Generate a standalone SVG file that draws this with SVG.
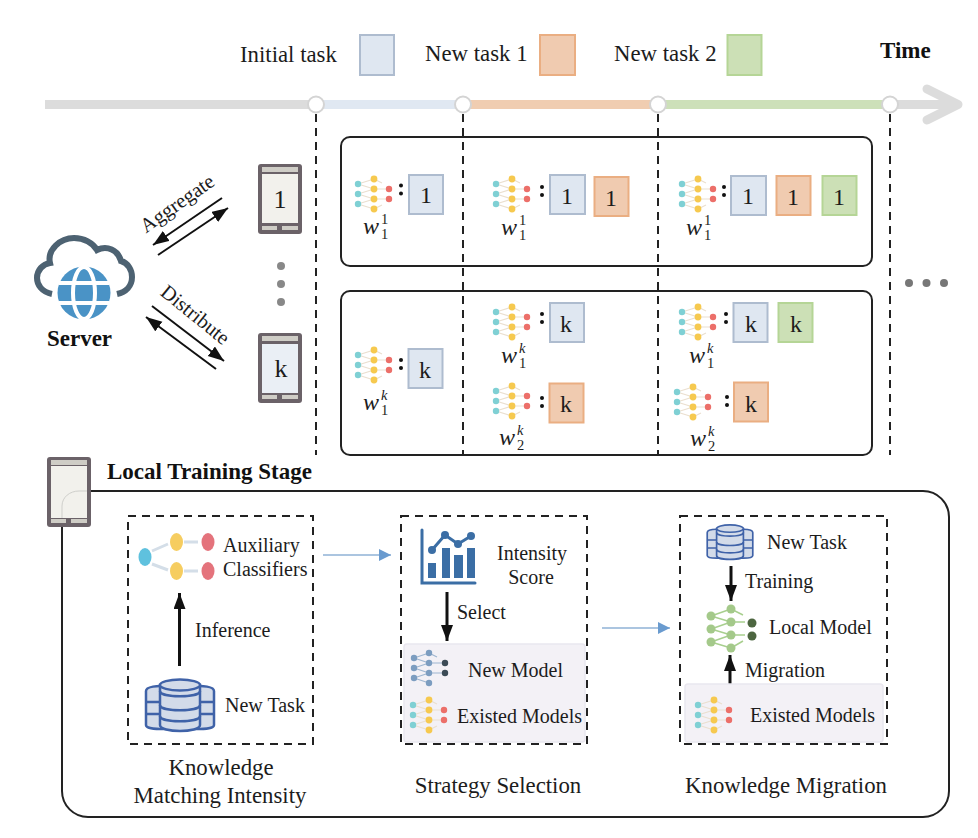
<svg xmlns="http://www.w3.org/2000/svg" width="978" height="838" viewBox="0 0 978 838">
<style>
text{font-family:"Liberation Serif","Times New Roman",serif;fill:#1c1c1c}
.t22{font-size:22.8px}
.t20{font-size:20px}
.rot{font-size:20.5px;text-anchor:middle}
.b{font-weight:bold;font-size:23px;fill:#111}
.m{text-anchor:middle}
.lbl{font-size:24px;text-anchor:middle}
.bl{fill:#dfe7f1;stroke:#aebccf;stroke-width:2}
.or{fill:#f0cbb0;stroke:#eaae82;stroke-width:2}
.gr{fill:#cce0b6;stroke:#b5d596;stroke-width:2}
.panel{fill:none;stroke:#222;stroke-width:2}
.dash{fill:none;stroke:#222;stroke-width:2;stroke-dasharray:8 6}
.soft{fill:#f3f1f6;stroke:#e9e7ef;stroke-width:1.5}
.w{font-size:24px;font-style:italic}
.ss{font-size:14.5px;font-style:italic}
.num{font-size:14.5px}
.ln{stroke:#111;stroke-width:2;fill:none}
.fat{stroke:#111;stroke-width:3;fill:none}
.blue{stroke:#8fb2d6;stroke-width:1.5;fill:none}
.db{fill:#d3dbe9;stroke:#3f62a8}
</style>
<defs>
<marker id="ah" markerUnits="userSpaceOnUse" markerWidth="18" markerHeight="14" refX="16" refY="6" orient="auto"><path d="M0 0L16 6L0 12Z" fill="#111"/></marker>
<marker id="ahb" markerUnits="userSpaceOnUse" markerWidth="14" markerHeight="14" refX="12" refY="6" orient="auto"><path d="M0 0L12 6L0 12Z" fill="#6a9bcf"/></marker>
<g id="links">
<path d="M-16-10L0-15M-16-10L0-5M-16 0L0-5M-16 0L0 5M-16 10L0 5M-16 10L0 15M0-15L8-11M0-5L15-5M0 5L15 5M0 15L8 11" stroke="#eadfcf" stroke-width="1.2" fill="none"/>
</g>
<g id="net">
<use href="#links"/>
<g fill="#7fd0d4"><circle cx="-16" cy="-10" r="3.200"/><circle cx="-16" cy="0" r="3.200"/><circle cx="-16" cy="10" r="3.200"/></g>
<g fill="#f6c94f"><circle cy="-15" r="3.400"/><circle cy="-5" r="3.400"/><circle cy="5" r="3.400"/><circle cy="15" r="3.400"/></g>
<g fill="#ec6f69"><circle cx="15" cy="-5" r="3.200"/><circle cx="15" cy="5" r="3.200"/></g>
</g>
<g id="colon"><circle cy="-4" r="2" fill="#111"/><circle cy="4" r="2" fill="#111"/></g>
<g id="phone">
<rect width="44" height="70" rx="3" fill="#6b6268"/>
<rect x="4" y="3" width="36" height="5" fill="#cfcdc6"/>
<rect x="4" y="62" width="15" height="4" fill="#cfcdc6"/>
<rect x="24" y="62" width="16" height="4" fill="#cfcdc6"/>
</g>
<g id="db">
<path class="db" stroke-width="2.5" d="M-34 -14V20C-34 24-20 24-20 24H20C20 24 34 24 34 20V-14C34-19 20-19 20-19H-20C-20-19-34-19-34-14Z"/>
<path d="M-34-3H34M-34 9H34" stroke="#3f62a8" stroke-width="2.500" fill="none"/>
<path class="db" stroke-width="2.500" d="M-20-20V20C-20 28 20 28 20 20V-20Z"/>
<ellipse class="db" stroke-width="2.500" cy="-20" rx="20" ry="5.500"/>
<path d="M-20-14C-20-7 20-7 20-14M-20 0C-20 7 20 7 20 0M-20 11C-20 18 20 18 20 11" stroke="#3f62a8" stroke-width="2.500" fill="none"/>
</g>
</defs>

<g id="connectors">
<path d="M45 104.500H316" stroke="#dcdcdc" stroke-width="9" fill="none"/>
<path d="M316 104.500H463" stroke="#e0e8f2" stroke-width="9" fill="none"/>
<path d="M463 104.500H658" stroke="#f0cdb1" stroke-width="9" fill="none"/>
<path d="M658 104.500H890" stroke="#cde0b9" stroke-width="9" fill="none"/>
<path d="M890 104.500H955" stroke="#dcdcdc" stroke-width="9" fill="none"/>
<path d="M927 89L958 104.500L927 120" stroke="#dcdcdc" stroke-width="9" fill="none" stroke-linecap="round" stroke-linejoin="round"/>
<path class="dash" d="M316 114V455M463 114V455M658 114V455M890 114V455"/>
<path class="ln" marker-end="url(#ah)" d="M222 198L153 245"/>
<path class="ln" marker-end="url(#ah)" d="M158 255L228 208"/>
<path class="ln" marker-end="url(#ah)" d="M152 306L224 361"/>
<path class="ln" marker-end="url(#ah)" d="M216 369L146 317"/>
<path class="fat" marker-end="url(#ah)" d="M179.500 666V593"/>
<path class="fat" marker-end="url(#ah)" d="M447 592V641"/>
<path class="fat" marker-end="url(#ah)" d="M731 566V601"/>
<path class="fat" marker-end="url(#ah)" d="M730 685V655"/>
<path class="blue" marker-end="url(#ahb)" d="M323 555H391"/>
<path class="blue" marker-end="url(#ahb)" d="M602 628H670"/>
</g>

<g id="legend">
<text class="t22" x="240" y="62">Initial task</text><rect class="bl" x="360" y="35" width="34" height="40"/>
<text class="t22" x="425" y="61">New task 1</text><rect class="or" x="540" y="35" width="35" height="40"/>
<text class="t22" x="614" y="61">New task 2</text><rect class="gr" x="727.500" y="35" width="34" height="40"/>
<text class="b" x="880" y="58">Time</text>
</g>
<g id="ticks" fill="#fff" stroke="#d4d4d4" stroke-width="2">
<circle cx="316" cy="104.500" r="8"/><circle cx="463" cy="104.500" r="8"/><circle cx="658" cy="104.500" r="8"/><circle cx="890" cy="104.500" r="8"/>
</g>

<g id="server">
<path d="M52 294C42 292 37 285 37 278C37 270 43 264 50 263C47 250 60 238 74 238C84 238 93 243 97 250C107 245 118 250 121 261C128 263 132 270 132 277C132 286 126 292 117 294" fill="none" stroke="#4d6272" stroke-width="6"/>
<circle cx="84" cy="293" r="26.500" fill="#4a93c6"/>
<g fill="none" stroke="#fff" stroke-width="4"><ellipse cx="84" cy="293" rx="11" ry="26"/><path d="M59 283H109M59 303H109"/></g>
<text class="b m" x="79.500" y="346">Server</text>
</g>
<text class="rot" transform="translate(181 209) rotate(-35)">Aggregate</text>
<text class="rot" transform="translate(191 320) rotate(39)">Distribute</text>

<g id="client-1"><use href="#phone" x="258" y="164"/><rect x="262" y="174" width="36" height="49" fill="#f2f1ec"/><text class="lbl" style="font-size:26px" x="280" y="208">1</text></g>
<g id="client-dots" fill="#888"><circle cx="281" cy="266" r="4"/><circle cx="281" cy="284" r="4"/><circle cx="281" cy="302" r="4"/></g>
<g id="client-k"><use href="#phone" x="258" y="333"/><rect x="262" y="344" width="36" height="49" fill="#eaeff5"/><text class="lbl" style="font-size:26px" x="281" y="377">k</text></g>

<g id="client-1-panel">
<rect class="panel" x="341" y="137" width="531" height="129" rx="9"/>
<use href="#net" x="374" y="194"/><use href="#colon" x="401" y="189.500"/>
<rect class="bl" x="409" y="175" width="34" height="39"/><text class="lbl" x="426" y="203">1</text>
<text class="w" x="363" y="234">w</text><text class="num" x="381" y="224">1</text><text class="num" x="381" y="239">1</text>
<use href="#net" x="512" y="194"/><use href="#colon" x="542" y="191"/>
<rect class="bl" x="550" y="175" width="35" height="39"/><text class="lbl" x="567" y="204">1</text>
<rect class="or" x="594.500" y="177" width="34" height="39"/><text class="lbl" x="611" y="206">1</text>
<text class="w" x="501" y="235">w</text><text class="num" x="519" y="225">1</text><text class="num" x="519" y="240">1</text>
<use href="#net" x="698" y="194"/><use href="#colon" x="724" y="191"/>
<rect class="bl" x="731" y="176" width="35" height="39"/><text class="lbl" x="748" y="204">1</text>
<rect class="or" x="776.500" y="176" width="34" height="39"/><text class="lbl" x="793" y="205">1</text>
<rect class="gr" x="822.500" y="176" width="34" height="39"/><text class="lbl" x="839" y="205">1</text>
<text class="w" x="686" y="235">w</text><text class="num" x="704" y="225">1</text><text class="num" x="704" y="240">1</text>
</g>

<g id="client-k-panel">
<rect class="panel" x="341" y="291" width="531" height="164" rx="9"/>
<use href="#net" x="374" y="365"/><use href="#colon" x="401" y="364"/>
<rect class="bl" x="408.500" y="349" width="34" height="39"/><text class="lbl" x="425" y="378">k</text>
<text class="w" x="363" y="410">w</text><text class="ss" x="381" y="400">k</text><text class="num" x="381" y="415">1</text>
<use href="#net" x="512" y="322"/><use href="#colon" x="542" y="318"/>
<rect class="bl" x="550" y="303" width="34" height="39"/><text class="lbl" x="566" y="332">k</text>
<text class="w" x="501" y="363">w</text><text class="ss" x="519" y="353">k</text><text class="num" x="519" y="368">1</text>
<use href="#net" x="512" y="401"/><use href="#colon" x="542" y="402"/>
<rect class="or" x="549.500" y="383.500" width="34" height="39"/><text class="lbl" x="566" y="412">k</text>
<text class="w" x="499" y="445">w</text><text class="ss" x="517" y="435">k</text><text class="num" x="517" y="450">2</text>
<use href="#net" x="698" y="322"/><use href="#colon" x="726" y="318"/>
<rect class="bl" x="733.500" y="303" width="34" height="39"/><text class="lbl" x="751" y="332">k</text>
<rect class="gr" x="778.500" y="303" width="34" height="39"/><text class="lbl" x="796" y="332">k</text>
<text class="w" x="689" y="363">w</text><text class="ss" x="707" y="353">k</text><text class="num" x="707" y="368">1</text>
<use href="#net" x="693" y="402"/><use href="#colon" x="727" y="401"/>
<rect class="or" x="734" y="382.500" width="34" height="39"/><text class="lbl" x="751" y="412">k</text>
<text class="w" x="690" y="446">w</text><text class="ss" x="708" y="436">k</text><text class="num" x="708" y="451">2</text>
</g>

<g id="more-dots" fill="#777"><circle cx="909" cy="283" r="4"/><circle cx="926.500" cy="283" r="4"/><circle cx="944" cy="283" r="4"/></g>

<g id="local-stage">
<rect class="panel" x="62" y="491" width="887" height="326" rx="26"/>
<use href="#phone" x="47" y="457"/><rect x="51" y="466" width="36" height="52" fill="#f2f1ec"/>
<path d="M62 518V506C62 497 70 491 79 491H87" fill="none" stroke="#cfcfcb" stroke-width="1"/>
<text class="b" x="107" y="479">Local Training Stage</text>
</g>

<g id="knowledge-matching">
<rect class="dash" x="128" y="516" width="185" height="228"/>
<path d="M152 551L168 544M152 564L168 570M184 542H198M184 571H198" stroke="#d4dee8" stroke-width="3" fill="none"/>
<ellipse cx="145" cy="557" rx="6.500" ry="9" fill="#5fc1de"/>
<ellipse cx="176.500" cy="542" rx="6.500" ry="9" fill="#f6cd60"/><ellipse cx="176.500" cy="571" rx="6.500" ry="9" fill="#f6cd60"/>
<ellipse cx="208" cy="542" rx="6.500" ry="9" fill="#e4737c"/><ellipse cx="208" cy="571" rx="6.500" ry="9" fill="#e4737c"/>
<text class="t20" x="223" y="552">Auxiliary</text><text class="t20" x="223" y="576">Classifiers</text>
<text class="t20" x="195" y="637">Inference</text>
<use href="#db" x="180" y="705"/>
<text class="t20" x="225" y="712">New Task</text>
<text class="t22 m" x="221" y="775">Knowledge</text><text class="t22 m" x="220" y="803">Matching Intensity</text>
</g>

<g id="strategy-selection">
<rect class="dash" x="401" y="516" width="186" height="228"/>
<rect class="soft" x="404" y="644" width="181" height="98" rx="3"/>
<path d="M422 530V583H475" fill="none" stroke="#3b6ea5" stroke-width="3" stroke-linecap="round"/>
<g fill="#3b6ea5"><rect x="428" y="563" width="8" height="15"/><rect x="442" y="548" width="8" height="30"/><rect x="454" y="555" width="9" height="23"/><rect x="467" y="548" width="8" height="30"/>
<path d="M432 550L445 535L458 544L471 536" fill="none" stroke="#3b6ea5" stroke-width="3"/>
<circle cx="432" cy="550" r="4"/><circle cx="445" cy="535" r="4"/><circle cx="458" cy="544" r="4"/><circle cx="471" cy="536" r="4"/></g>
<text class="t20 m" x="532" y="560">Intensity</text><text class="t20 m" x="531" y="584">Score</text>
<text class="t20" x="457" y="619">Select</text>
<g transform="translate(429 668)">
<path d="M-15-10L0-15M-15-10L0-5M-15 0L0-5M-15 0L0 5M-15 10L0 5M-15 10L0 15M0-15L8-11M0-5L15-5M0 5L15 5" stroke="#9db6d0" stroke-width="1.200" fill="none"/>
<g fill="#7c9dc0"><circle cx="-15" cy="-10" r="3.200"/><circle cx="-15" cy="0" r="3.200"/><circle cx="-15" cy="10" r="3.200"/><circle cy="-15" r="3.200"/><circle cy="-5" r="3.200"/><circle cy="5" r="3.200"/><circle cy="15" r="3.200"/></g>
<g fill="#3b4a55"><circle cx="16" cy="-5" r="3.200"/><circle cx="16" cy="5" r="3.200"/></g>
</g>
<text class="t20" x="468" y="677">New Model</text>
<use href="#net" x="429" y="715"/>
<text class="t20" x="457" y="723">Existed Models</text>
<text class="t22 m" x="498" y="793">Strategy Selection</text>
</g>

<g id="knowledge-migration">
<rect class="dash" x="680" y="516" width="207" height="228"/>
<rect class="soft" x="685" y="684" width="198" height="58" rx="3"/>
<use href="#db" transform="translate(730 542) scale(.67)"/>
<text class="t20" x="767" y="549">New Task</text>
<text class="t20" x="745" y="588">Training</text>
<g transform="translate(731 628)">
<path d="M-20-12L0-19M-20-12L0-6M-20 1L0-6M-20 1L0 7M-20 14L0 7M-20 14L0 20M0-19L12-13M0-6L14-6M0 7L14 7M0 20L12 13" stroke="#a8cf8e" stroke-width="1.500" fill="none"/>
<g fill="#a4c98a"><circle cx="-20" cy="-12" r="4.500"/><circle cx="-20" cy="1" r="4.500"/><circle cx="-20" cy="14" r="4.500"/><circle cy="-19" r="4.500"/><circle cy="-6" r="4.500"/><circle cy="7" r="4.500"/><circle cy="20" r="4.500"/></g>
<g fill="#4d6640"><circle cx="21" cy="-5" r="4.500"/><circle cx="21" cy="8" r="4.500"/></g>
</g>
<text class="t20" x="769" y="634">Local Model</text>
<text class="t20" x="745" y="677">Migration</text>
<use href="#net" x="714" y="715"/>
<text class="t20" x="750" y="722">Existed Models</text>
<text class="t22 m" x="786" y="793">Knowledge Migration</text>
</g>
</svg>
